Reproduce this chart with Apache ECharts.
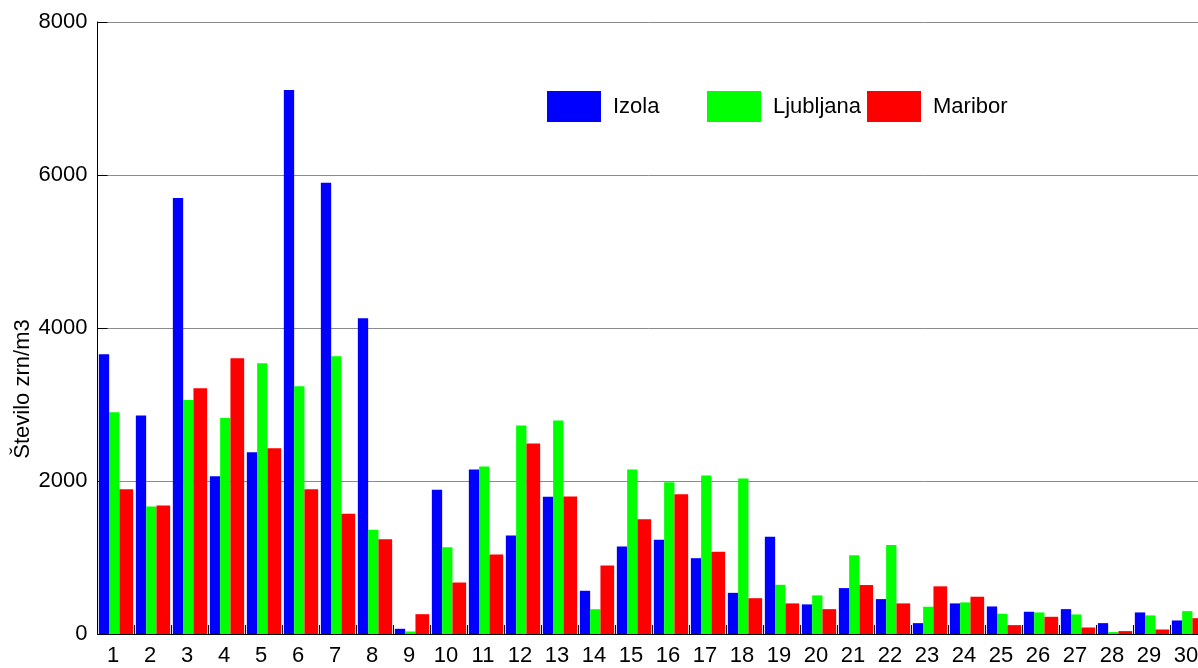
<!DOCTYPE html>
<html>
<head>
<meta charset="utf-8">
<script src="https://cdn.jsdelivr.net/npm/echarts@6/dist/echarts.min.js"></script>
<style>
html,body{margin:0;padding:0;background:#fff;}
#c{width:1198px;height:668px;}
</style>
</head>
<body>
<div id="c"></div>
<script>
const categories = ['1','2','3','4','5','6','7','8','9','10','11','12','13','14','15','16','17','18','19','20','21','22','23','24','25','26','27','28','29','30'];
const izola = [3657, 2855, 5700, 2061, 2375, 7110, 5900, 4128, 68, 1885, 2150, 1287, 1793, 565, 1144, 1231, 991, 538, 1270, 387, 600, 456, 142, 400, 360, 291, 325, 142, 282, 177];
const ljubljana = [2898, 1668, 3060, 2824, 3540, 3239, 3631, 1363, 33, 1135, 2189, 2725, 2790, 324, 2150, 1984, 2072, 2032, 643, 505, 1029, 1164, 356, 413, 265, 282, 256, 25, 243, 299];
const maribor = [1891, 1681, 3212, 3605, 2427, 1891, 1573, 1237, 259, 673, 1039, 2490, 1797, 895, 1500, 1827, 1074, 468, 400, 325, 640, 400, 623, 487, 116, 225, 85, 38, 59, 207];
const yTicks = { min: 0, max: 8000, interval: 2000 };
const yName = 'Število zrn/m3';

const FONT = "'Liberation Sans', Arial, sans-serif";
const chart = echarts.init(document.getElementById('c'), null, { renderer: 'canvas' });

function legend(name, left) {
  return {
    data: [name], left: left, top: 86, icon: 'rect',
    itemWidth: 54, itemHeight: 31, selectedMode: false,
    textStyle: { fontFamily: FONT, fontSize: 22, color: '#000', padding: [0, 0, 0, 7] }
  };
}

chart.setOption({
  animation: false,
  backgroundColor: '#fff',
  grid: { left: 97.5, right: -9.5, top: 22, bottom: 34, containLabel: false, outerBoundsMode: 'none' },
  legend: [legend('Izola', 542), legend('Ljubljana', 702), legend('Maribor', 862)],
  xAxis: {
    type: 'category', data: categories,
    axisLine: { show: true, lineStyle: { color: '#000', width: 1 } },
    axisTick: { show: true, inside: true, length: 9, interval: 0, lineStyle: { color: '#000' } },
    axisLabel: { interval: 0, margin: 11, fontFamily: FONT, fontSize: 22, color: '#000', padding: [0, 6, 0, 0], hideOverlap: false },
    splitLine: { show: false }
  },
  yAxis: {
    type: 'value', min: yTicks.min, max: yTicks.max, interval: yTicks.interval,
    axisLine: { show: true, lineStyle: { color: '#000', width: 1 } },
    axisTick: { show: true, inside: true, length: 10, lineStyle: { color: '#000' } },
    axisLabel: { margin: 10, fontFamily: FONT, fontSize: 22, color: '#000', formatter: v => String(v) },
    splitLine: { show: true, lineStyle: { color: '#8a8a8a', width: 1 } }
  },
  graphic: [{
    type: 'text', x: 23, y: 389, rotation: Math.PI / 2,
    style: { text: yName, font: "22px 'Liberation Sans', Arial, sans-serif", fill: '#000', align: 'center', verticalAlign: 'middle' }
  }],
  series: [
    { name: 'Izola', type: 'bar', data: izola, barWidth: 10.3, barGap: '0%', itemStyle: { color: '#0000ff' } },
    { name: 'Ljubljana', type: 'bar', data: ljubljana, barWidth: 10.3, barGap: '0%', itemStyle: { color: '#00ff00' } },
    { name: 'Maribor', type: 'bar', data: maribor, barWidth: 13.7, barGap: '0%', itemStyle: { color: '#ff0000' } }
  ]
});
</script>
</body>
</html>
